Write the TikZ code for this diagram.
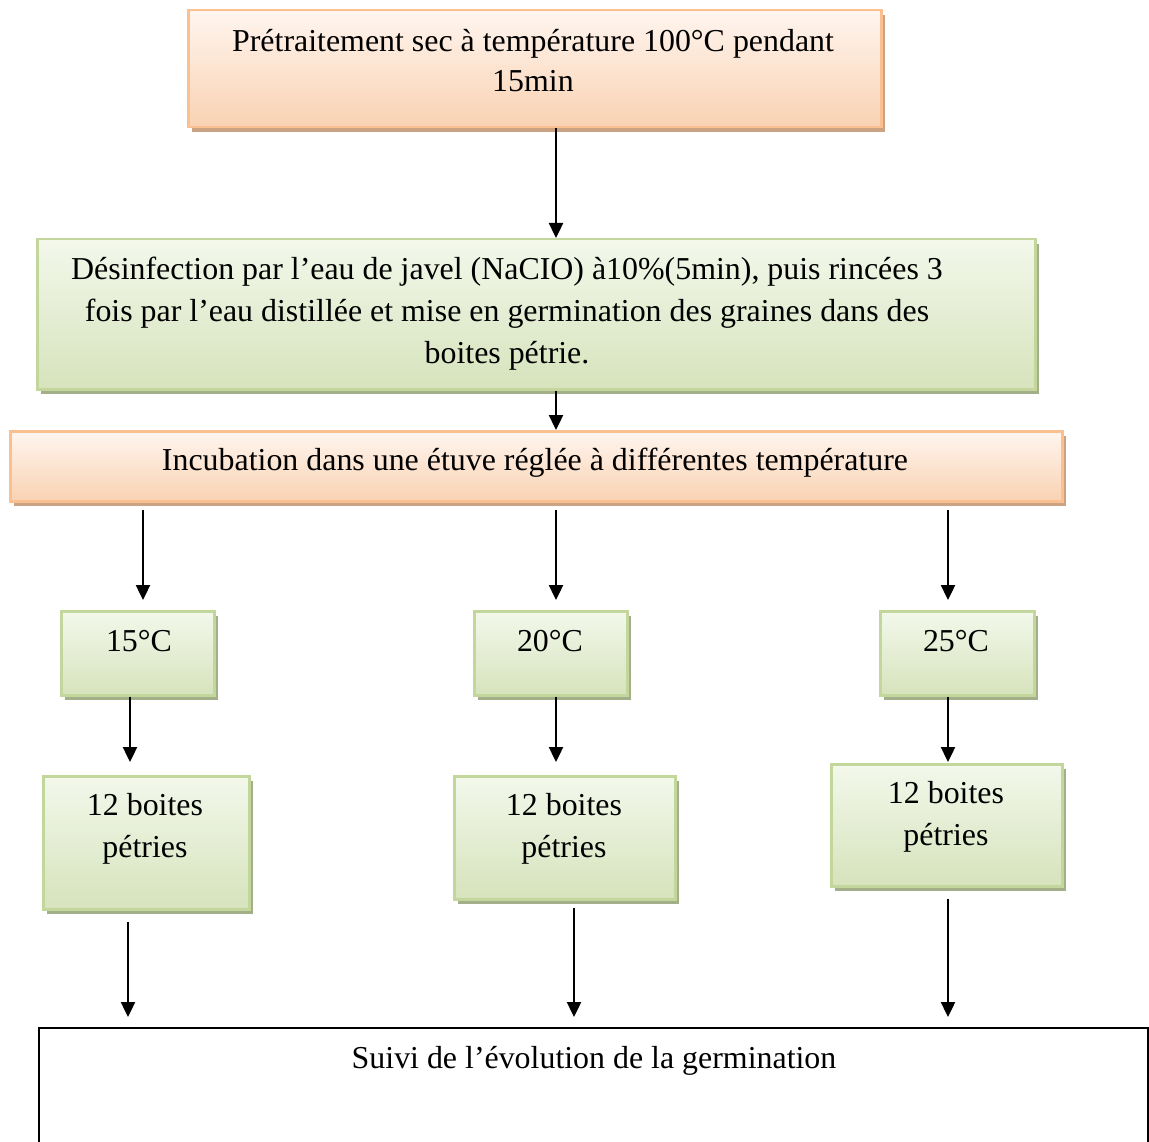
\documentclass[tikz,border=0pt]{standalone}
\usepackage{fontspec}
\setmainfont{Liberation Serif}
\usetikzlibrary{shadows,arrows.meta}
\definecolor{oborder}{HTML}{FAC08F}
\definecolor{otop}{HTML}{FFF5EF}
\definecolor{obot}{HTML}{F9D2B2}
\definecolor{oshadow}{HTML}{CBA282}
\definecolor{gborder}{HTML}{C3D69B}
\definecolor{gtop}{HTML}{F3F8EB}
\definecolor{gbot}{HTML}{D6E3BC}
\definecolor{gshadow}{HTML}{A3AF89}
\begin{document}
\begin{tikzpicture}[x=1pt,y=-1pt,
  txt/.style={font=\fontsize{31.9}{40}\selectfont, align=center, inner sep=0pt},
  txtw/.style={font=\fontsize{31.9}{42}\selectfont, align=center, inner sep=0pt},
  boxbase/.style={rectangle, anchor=north west, line width=2.5pt, inner sep=0pt},
  obox/.style={boxbase, draw=oborder, top color=otop, bottom color=obot,
    drop shadow={shadow xshift=4pt, shadow yshift=-5pt, fill=oshadow, opacity=1}},
  gbox/.style={boxbase, draw=gborder, top color=gtop, bottom color=gbot,
    drop shadow={shadow xshift=4pt, shadow yshift=-5pt, fill=gshadow, opacity=1}},
  endbox/.style={rectangle, anchor=north west, draw=black, line width=2pt, inner sep=0pt},
  arr/.style={line width=2.4pt, -{Triangle[width=14pt,length=15pt]}}
]
\useasboundingbox (0,0) rectangle (1149,1142);

% column positions of the connectors
\coordinate (xM) at (556,0);
\coordinate (xL) at (143,0);
\coordinate (xR) at (948,0);
\coordinate (xL2) at (130,0);
\coordinate (xL3) at (128,0);
\coordinate (xM3) at (574,0);

% main steps
\node[obox, minimum width=693, minimum height=117] (pre) at (187,9) {};
\node[txt] (preT) at (533,61) {Prétraitement sec à température 100°C pendant\\15min};

\node[gbox, minimum width=998, minimum height=150] (des) at (36,238) {};
\node[txtw] (desT) at (507,314) {Désinfection par l’eau de javel (NaCIO) à10\%(5min), puis rincées 3\\
 fois par l’eau distillée et mise en germination des graines dans des\\
 boites pétrie.};

\node[obox, minimum width=1052, minimum height=70] (inc) at (9,430) {};
\node[txt] (incT) at (535,463) {Incubation dans une étuve réglée à différentes température};

% temperatures
\node[gbox, minimum width=153, minimum height=84] (t1) at (60,610) {};
\node[txt] (t1T) at (139,641) {15°C};
\node[gbox, minimum width=153, minimum height=84] (t2) at (473,610) {};
\node[txt] (t2T) at (550,641) {20°C};
\node[gbox, minimum width=154, minimum height=84] (t3) at (879,610) {};
\node[txt] (t3T) at (956,641) {25°C};

% petri dishes
\node[gbox, minimum width=206, minimum height=133] (p1) at (42,775) {};
\node[txtw] (p1T) at (145,829) {12 boites\\pétries};
\node[gbox, minimum width=221, minimum height=123] (p2) at (453,775) {};
\node[txtw] (p2T) at (564,829) {12 boites\\pétries};
\node[gbox, minimum width=231, minimum height=122] (p3) at (830,763) {};
\node[txtw] (p3T) at (946,817) {12 boites\\pétries};

% follow-up
\node[endbox, minimum width=1109, minimum height=200] (suivi) at (38,1027) {};
\node[txt] (suiviT) at (594,1061) {Suivi de l’évolution de la germination};

% connectors
\draw[arr] (pre.south -| xM) -- (des.north -| xM);
\draw[arr] (des.south -| xM) -- (inc.north -| xM);

\draw[arr, shorten <=7pt, shorten >=10pt] (inc.south -| xL) -- (t1.north -| xL);
\draw[arr, shorten <=7pt, shorten >=10pt] (inc.south -| xM) -- (t2.north -| xM);
\draw[arr, shorten <=7pt, shorten >=10pt] (inc.south -| xR) -- (t3.north -| xR);

\draw[arr, shorten >=13pt] (t1.south -| xL2) -- (p1.north -| xL2);
\draw[arr, shorten >=13pt] (t2.south -| xM) -- (p2.north -| xM);
\draw[arr, shorten >=1pt] (t3.south -| xR) -- (p3.north -| xR);

\draw[arr, shorten <=11pt, shorten >=10pt] (p1.south -| xL3) -- (suivi.north -| xL3);
\draw[arr, shorten <=7pt, shorten >=10pt] (p2.south -| xM3) -- (suivi.north -| xM3);
\draw[arr, shorten <=11pt, shorten >=10pt] (p3.south -| xR) -- (suivi.north -| xR);
\end{tikzpicture}
\end{document}
